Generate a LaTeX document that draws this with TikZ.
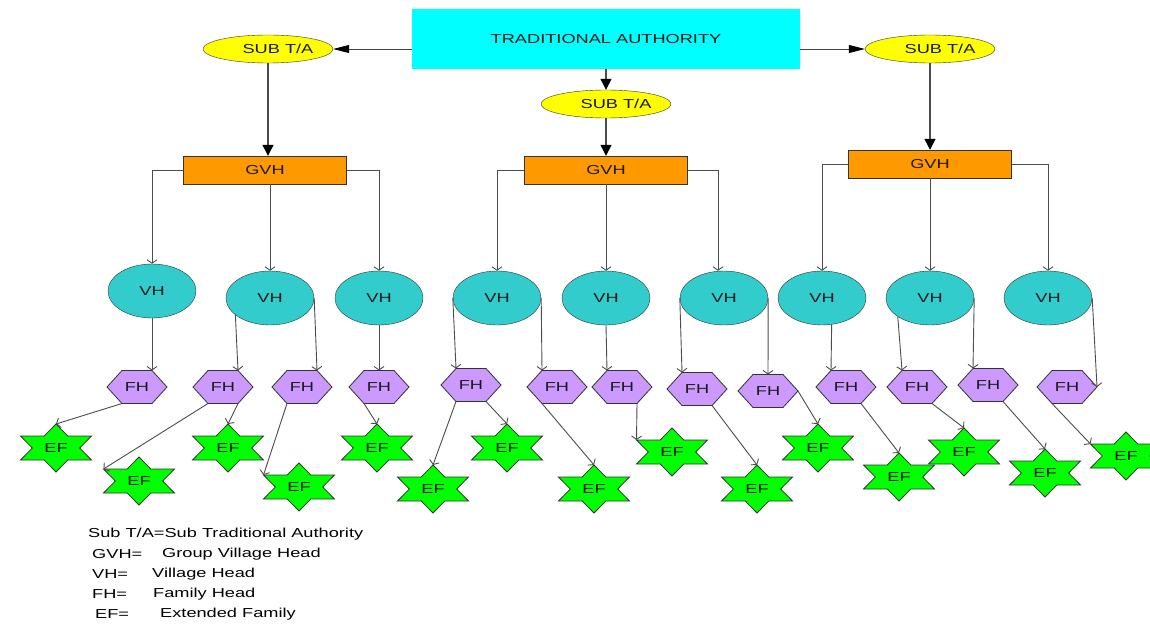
\documentclass[tikz,border=0pt]{standalone}
\usepackage{fontspec}
\setmainfont{Liberation Sans}[FakeStretch=1.4]
\usepackage{tikz}
\usetikzlibrary{arrows.meta,positioning,shapes.geometric,calc}
\definecolor{tacyan}{HTML}{00FFFF}
\definecolor{subyellow}{HTML}{FFFF00}
\definecolor{gvhorange}{HTML}{FF9900}
\definecolor{vhteal}{HTML}{33CCCC}
\definecolor{fhlilac}{HTML}{CC99FF}
\definecolor{efgreen}{HTML}{00FF00}
\definecolor{edgegray}{HTML}{333333}

\tikzset{
  lbl/.style={font=\fontsize{13pt}{15pt}\selectfont, text=black!90, inner sep=0pt},
  tabox/.style={lbl, fill=tacyan, minimum width=388pt, minimum height=60pt},
  subta/.style={lbl, ellipse, draw=edgegray, fill=subyellow, minimum width=130pt, minimum height=28pt,
    execute at begin node={\hspace*{20pt}}},
  gvhbox/.style={lbl, draw=edgegray, fill=gvhorange, minimum width=163pt, minimum height=28pt},
  vhnode/.style={lbl, ellipse, draw=edgegray, fill=vhteal, minimum width=88pt, minimum height=54pt},
  fhshape/.style={draw=edgegray, fill=fhlilac, line width=0.8pt},
  efshape/.style={draw=edgegray, fill=efgreen, line width=0.8pt},
  bigarrow/.style={draw=black!70, line width=1.3pt, -{Triangle[length=11pt,width=11pt,color=black]}},
  sidearrow/.style={draw=black!75, line width=0.8pt, -{Triangle[length=16pt,width=8pt,color=black]}},
  link/.style={draw=black!70, line width=0.9pt, -{Straight Barb[length=3.5pt,width=10pt]}},
  legend/.style={font=\fontsize{13pt}{15pt}\selectfont, anchor=west, inner sep=0pt},
}

\begin{document}
\begin{tikzpicture}[x=1pt,y=-1pt]
  \useasboundingbox (0,0) rectangle (1150,631);

  % authority and sub authorities
  \node[tabox] (ta) at (606,39) {TRADITIONAL AUTHORITY};
  \node[subta] (suba) at (268,49) {SUB T/A};
  \node[subta] (subb) at (606,104) {\raisebox{-3pt}{SUB T/A}};
  \node[subta] (subc) at (930,49) {SUB T/A};

  \node[gvhbox] (gvha) at (265,170) {GVH};
  \node[gvhbox] (gvhb) at (606,170) {GVH};
  \node[gvhbox] (gvhc) at (930,164) {GVH};

  \draw[sidearrow] ($(ta.west)+(0,10)$) -- (suba.east);
  \draw[sidearrow] ($(ta.east)+(0,10)$) -- (subc.west);
  \draw[bigarrow] (ta.south) -- (subb.north);
  \draw[bigarrow] (suba.south) -- (suba.south |- gvha.north);
  \draw[bigarrow] (subb.south) -- (gvhb.north);
  \draw[bigarrow] (subc.south) -- (gvhc.north);

  % village heads
  \foreach \n/\cx/\cy in {vh1/152/291, vh2/270/298, vh3/379/298, vh4/497/298, vh5/606/298,
                          vh6/724/298, vh7/822/298, vh8/930/298, vh9/1048/298}
    \node[vhnode] (\n) at (\cx,\cy) {VH};

  \draw[link] (gvha.west) -| (vh1.north);
  \draw[link] (vh2.north |- gvha.south) -- (vh2.north);
  \draw[link] (gvha.east) -| (vh3.north);
  \draw[link] (gvhb.west) -| (vh4.north);
  \draw[link] (gvhb.south) -- (vh5.north);
  \draw[link] (gvhb.east) -| ($(vh6.north)+(-6,0)$);
  \draw[link] (gvhc.west) -| (vh7.north);
  \draw[link] (gvhc.south) -- (vh8.north);
  \draw[link] (gvhc.east) -| (vh9.north);

  % family heads
  \foreach \n/\cx/\cy in {fh1/137/387, fh2/223/387, fh3/302/387, fh4/379/387, fh5/471/385,
                          fh6/557/387, fh7/622/387, fh8/697/389, fh9/768/391, fh10/846/387,
                          fh11/917/387, fh12/988/385, fh13/1067/387} {
    \filldraw[fhshape, shift={(\cx,\cy)}] (-30,0) -- (-15,-16.5) -- (15,-16.5) -- (30,0)
      -- (15,16.5) -- (-15,16.5) -- cycle;
    \node[lbl] (\n) at (\cx,\cy) {FH};
    \coordinate (\n-tl) at (\cx-15,\cy-16.5);
    \coordinate (\n-tc) at (\cx,\cy-16.5);
    \coordinate (\n-tr) at (\cx+15,\cy-16.5);
    \coordinate (\n-bl) at (\cx-15,\cy+16.5);
    \coordinate (\n-br) at (\cx+15,\cy+16.5);
    \coordinate (\n-r) at (\cx+30,\cy);
  }

  \foreach \a/\b in {vh1.south/fh1-tr, vh2.206/fh2-tr, vh2.east/fh3-tr, vh3.south/fh4-tc,
                     vh4.west/fh5-tl, vh4.east/fh6-tl, vh5.south/fh7-tl, vh6.west/fh8-tl,
                     vh6.east/fh9-tc, vh7.290/fh10-tl, vh8.210/fh11-tl, vh8.east/fh12-tl,
                     vh9.east/fh13-r}
    \draw[link] (\a) -- (\b);

  % extended families
  \foreach \n/\cx/\cy in {ef1/56/448, ef2/139/481, ef3/228/448, ef4/299/487, ef5/377/448,
                          ef6/433/489, ef7/507/448, ef8/594/489, ef9/672/452, ef10/757/489,
                          ef11/818/448, ef13/964/452, ef12/899/477, ef14/1045/473, ef15/1126/456} {
    \filldraw[efshape, shift={(\cx,\cy)}] (0,-24) -- (11.8,-12) -- (35.5,-12) -- (23.7,0)
      -- (35.5,12) -- (11.8,12) -- (0,24) -- (-11.8,12) -- (-35.5,12) -- (-23.7,0)
      -- (-35.5,-12) -- (-11.8,-12) -- cycle;
    \node[lbl] (\n) at (\cx,\cy) {EF};
    \coordinate (\n-top) at (\cx,\cy-24);
    \coordinate (\n-ul) at (\cx-35.5,\cy-12);
  }

  \foreach \a/\b in {fh1-bl/ef1-top, fh2-bl/ef2-ul, fh2-br/ef3-top, fh3-bl/ef4-ul,
                     fh4-bl/ef5-top, fh5-bl/ef6-top, fh5-br/ef7-top, fh6-bl/ef8-top,
                     fh7-br/ef9-ul, fh8-br/ef10-top, fh9-r/ef11-top, fh10-br/ef12-top,
                     fh11-br/ef13-top, fh12-br/ef14-top, fh13-bl/ef15-ul}
    \draw[link] (\a) -- (\b);

  % key
  \node[legend] (key0) at (88,534.5) {Sub T/A=Sub Traditional Authority};
  \node[legend] (key1) at (92,554.5) {GVH=};
  \node[legend] (key1d) at (162,554.5) {Group Village Head};
  \node[legend] (key2) at (92,574.5) {VH=};
  \node[legend] (key2d) at (152,574.5) {Village Head};
  \node[legend] (key3) at (92,594.5) {FH=};
  \node[legend] (key3d) at (153,594.5) {Family Head};
  \node[legend] (key4) at (95,614.5) {EF=};
  \node[legend] (key4d) at (160,614.5) {Extended Family};
\end{tikzpicture}
\end{document}
